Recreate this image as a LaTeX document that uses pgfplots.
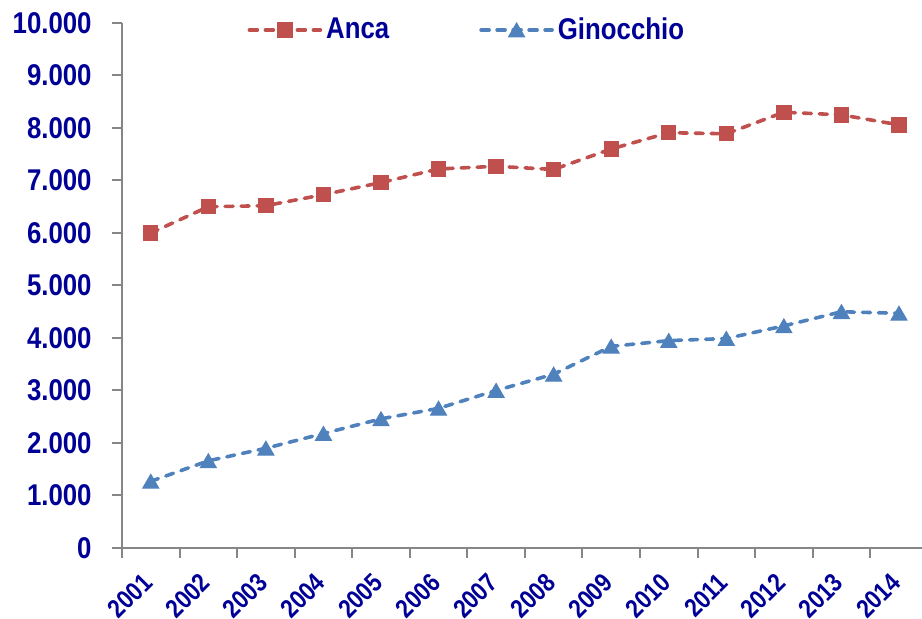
\documentclass[border=0pt]{standalone}
\usepackage{fontspec}
\setmainfont{Liberation Sans}[FakeStretch=0.86]
\usepackage{pgfplots}
\pgfplotsset{compat=1.18}
\definecolor{ancared}{RGB}{192,80,77}
\definecolor{ginblue}{RGB}{79,129,189}
\definecolor{navytxt}{RGB}{0,0,150}
\definecolor{axgray}{RGB}{134,134,134}
\begin{document}
\begin{tikzpicture}
\begin{axis}[
  at={(0,0)}, anchor=south west,
  scale only axis, width=400pt, height=262.5pt,
  xmin=0.5, xmax=14.4, ymin=0, ymax=10000,
  clip=false,
  axis x line=bottom, axis y line=left,
  axis line style={-, draw=axgray, line width=1pt},
  tick style={draw=axgray, line width=1pt},
  tick align=outside, major tick length=5pt,
  xtick={0.5,1.5,2.5,3.5,4.5,5.5,6.5,7.5,8.5,9.5,10.5,11.5,12.5,13.5},
  xticklabels={2001,2002,2003,2004,2005,2006,2007,2008,2009,2010,2011,2012,2013,2014},
  ytick={0,1000,2000,3000,4000,5000,6000,7000,8000,9000,10000},
  scaled y ticks=false,
  /pgf/number format/.cd, 1000 sep={.}, assume math mode=true, /pgfplots/.cd,
  tick label style={font=\fontsize{15}{17}\selectfont\bfseries, text=navytxt},
  yticklabel style={inner sep=0pt, xshift=-10pt},
  xticklabel style={font=\fontsize{13}{15}\selectfont\bfseries, inner sep=0pt, xshift=13pt, yshift=-10pt, rotate=45, anchor=east},
  legend columns=2,
  legend style={draw=none, fill=none, at={(0.149,0.9867)}, anchor=west,
    font=\fontsize{15}{17}\selectfont\bfseries, text=navytxt,
    /tikz/column 2/.style={column sep=43pt}},
  legend image code/.code={\draw[mark repeat=2,mark phase=2,#1] plot coordinates {(0pt,0pt) (17.75pt,0pt) (35.5pt,0pt)};},
]
\addplot[color=ancared, line width=1.8pt, line cap=round, dash pattern=on 4pt off 4pt,
  mark=square*, mark size=3.6pt, mark options={solid, fill=ancared, draw=ancared, line width=0.5pt}]
  coordinates {(1,6000) (2,6500) (3,6520) (4,6730) (5,6960) (6,7220) (7,7270)
  (8,7210) (9,7600) (10,7910) (11,7890) (12,8300) (13,8250) (14,8060)};
\addlegendentry{Anca}
\addplot[color=ginblue, line width=1.8pt, line cap=round, dash pattern=on 4pt off 4pt,
  mark=triangle*, mark size=4.6pt, mark options={solid, yshift=-1.1pt, fill=ginblue, draw=ginblue, line width=0.5pt}]
  coordinates {(1,1270) (2,1660) (3,1900) (4,2180) (5,2460) (6,2660) (7,3000)
  (8,3310) (9,3840) (10,3950) (11,3990) (12,4230) (13,4500) (14,4470)};
\addlegendentry{Ginocchio}
\end{axis}
\pgfresetboundingbox
\path[use as bounding box] (-61pt,-35.5pt) rectangle (400pt,274pt);
\end{tikzpicture}
\end{document}
